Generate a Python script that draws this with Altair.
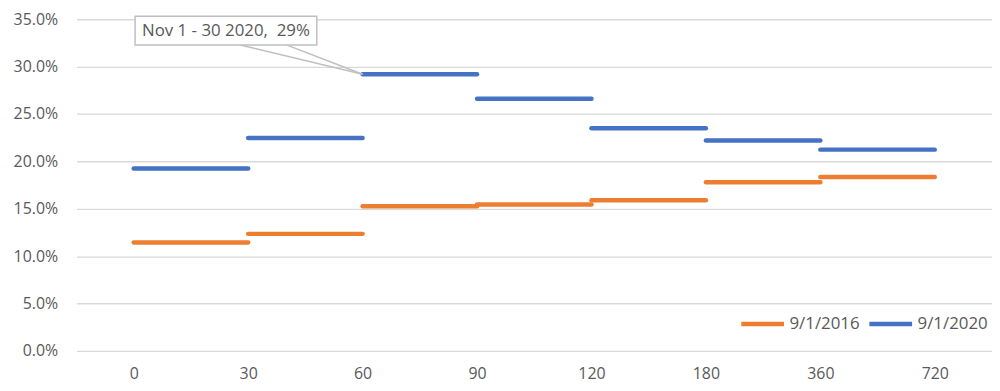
import altair as alt
import pandas as pd

categories = ["0", "30", "60", "90", "120", "180", "360", "720"]
series_names = ["9/1/2016", "9/1/2020"]
values_2016 = [0.1143, 0.1235, 0.1527, 0.1544, 0.1590, 0.1780, 0.1835]
values_2020 = [0.1925, 0.2247, 0.2920, 0.2660, 0.2350, 0.2220, 0.2124]
y_ticks = [0, 0.05, 0.10, 0.15, 0.20, 0.25, 0.30, 0.35]
callout_text = "Nov 1 - 30 2020,\u00a0 29%"
callout_cat = "60"
callout_value = 0.2920

colors = ["#ED7D31", "#4472C4"]
grey_text = "#595959"
FONT = "Open Sans"

rows = []
for name, vals in zip(series_names, [values_2016, values_2020]):
    for i, v in enumerate(vals):
        rows.append({"series": name, "start": categories[i], "end": categories[i + 1], "value": v})
df = pd.DataFrame(rows)

xscale = alt.Scale(type="point", domain=categories, padding=0.5)
yscale = alt.Scale(domain=[0, 0.35])

segments = alt.Chart(df).mark_rule(strokeWidth=4.5, strokeCap="round").encode(
    x=alt.X("start:O", scale=xscale, sort=categories,
            axis=alt.Axis(title=None, labelAngle=0, ticks=False, domain=False, grid=False,
                          labelPadding=15, labelFontSize=16, labelColor=grey_text, labelFont=FONT)),
    x2="end:O",
    y=alt.Y("value:Q", scale=yscale,
            axis=alt.Axis(title=None, values=y_ticks, format=".1%", ticks=False, domain=False,
                          gridColor="#D9D9D9", gridWidth=1.3, labelPadding=19,
                          labelFontSize=16, labelColor=grey_text, labelFont=FONT)),
    color=alt.Color("series:N", scale=alt.Scale(domain=series_names, range=colors),
                    legend=alt.Legend(title=None, orient="none", legendX=667, legendY=283,
                                      direction="horizontal", symbolType="stroke",
                                      symbolSize=1849, symbolStrokeWidth=4.5,
                                      labelOffset=3, columnPadding=0,
                                      labelFontSize=17, labelColor=grey_text, labelFont=FONT)),
)

cdf = pd.DataFrame({"cat": [callout_cat], "value": [callout_value], "label": [callout_text]})

leader1 = alt.Chart(cdf).mark_rule(color="#BFBFBF", strokeWidth=1.5).encode(
    x=alt.X("cat:O", scale=xscale), y=alt.Y("value:Q", scale=yscale),
    x2=alt.value(165), y2=alt.value(26))
leader2 = alt.Chart(cdf).mark_rule(color="#BFBFBF", strokeWidth=1.5).encode(
    x=alt.X("cat:O", scale=xscale), y=alt.Y("value:Q", scale=yscale),
    x2=alt.value(212), y2=alt.value(26))
box = alt.Chart(cdf).mark_rect(fill="white", stroke="#BFBFBF", strokeWidth=1.5).encode(
    x=alt.value(59), x2=alt.value(242), y=alt.value(-3), y2=alt.value(26))
label = alt.Chart(cdf).mark_text(fontSize=17, color=grey_text, font=FONT,
                                 align="center", baseline="middle").encode(
    x=alt.value(150.5), y=alt.value(11.5), text="label:N")

chart = alt.layer(segments, leader1, leader2, box, label).properties(
    width=922, height=334,
    autosize=alt.AutoSizeParams(type="none"),
    padding={"left": 69, "top": 10, "right": 0, "bottom": 31},
).configure_view(stroke=None)

chart.save("out.html", embed_options={"renderer": "svg", "actions": False})
